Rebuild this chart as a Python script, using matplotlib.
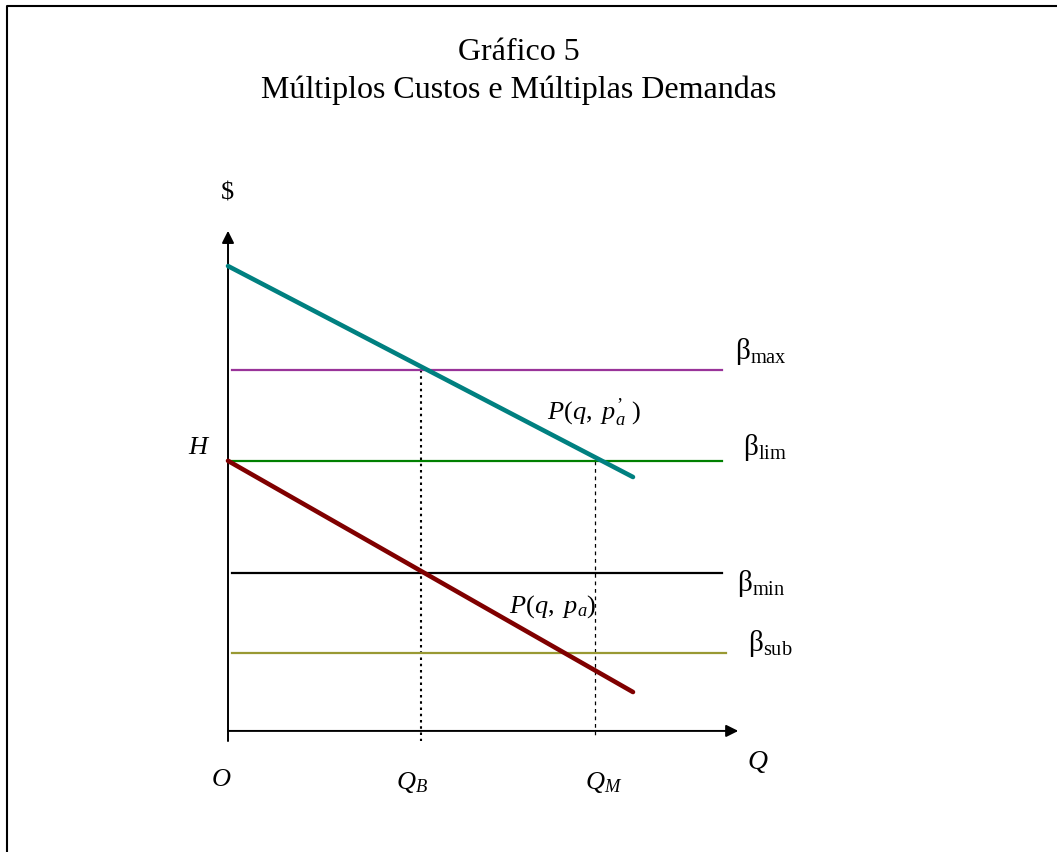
import matplotlib
matplotlib.use("Agg")
import matplotlib.pyplot as plt
from matplotlib.lines import Line2D

plt.rcParams["font.family"] = ["Liberation Serif", "DejaVu Serif"]
plt.rcParams["mathtext.fontset"] = "custom"
plt.rcParams["mathtext.rm"] = "Liberation Serif"
plt.rcParams["mathtext.it"] = "Liberation Serif:italic"

# chart values (Q units on x, $ units on y)
q_end = 10.0
demand_high = [11.48, 6.27]   # P(q, p'_a) at q = 0 and q_end
demand_low = [6.67, 0.96]     # P(q, p_a) at q = 0 and q_end
beta_names = ["max", "lim", "min", "sub"]
beta_values = [8.91, 6.67, 3.90, 1.93]
beta_colors = ["#993399", "#008000", "#000000", "#999933"]
q_b = 4.77
q_m = 9.06


def draw_chart():
    fig = plt.figure(figsize=(10.57, 8.52), dpi=100)
    ax = fig.add_axes([0, 0, 1, 1])
    ax.set_xlim(-5.63, 20.47)
    ax.set_ylim(-2.99, 18.05)
    ax.axis("off")

    # frame around the picture (only top and left visible)
    fig.add_artist(Line2D([7 / 1057, 7 / 1057, 1], [0, 1 - 6 / 852, 1 - 6 / 852],
                          transform=fig.transFigure, color="black", lw=1.5))

    fig.text(519 / 1057, 1 - 60 / 852, "Gráfico 5", ha="center", va="baseline", fontsize=23)
    fig.text(519 / 1057, 1 - 98 / 852, "Múltiplos Custos e Múltiplas Demandas",
             ha="center", va="baseline", fontsize=23)

    # axes with arrows
    ax.annotate("", xy=(0, 12.35), xytext=(0, -0.25),
                arrowprops=dict(arrowstyle="-|>", color="black", lw=1.4, mutation_scale=18,
                                shrinkA=0, shrinkB=0))
    ax.annotate("", xy=(12.6, 0), xytext=(0, 0),
                arrowprops=dict(arrowstyle="-|>", color="black", lw=1.4, mutation_scale=18,
                                shrinkA=0, shrinkB=0))

    # cost levels
    for name, val, col in zip(beta_names, beta_values, beta_colors):
        x0 = 0.0 if name == "lim" else 0.1
        x1 = 12.3 if name == "sub" else 12.2
        ax.plot([x0, x1], [val, val], color=col, lw=1.6, zorder=2)

    # demand curves
    ax.plot([0, q_end], demand_high, color="#008080", lw=3.3, solid_capstyle="round", zorder=3)
    ax.plot([0, q_end], demand_low, color="#800000", lw=3.3, solid_capstyle="round", zorder=3)

    # reference quantities
    ax.plot([q_b, q_b], [beta_values[0], -0.25], color="black", lw=1.5,
            linestyle=(0, (1.2, 1.8)), zorder=1)
    ax.plot([q_m, q_m], [beta_values[1], -0.1], color="black", lw=0.9,
            linestyle=(0, (3, 3)), zorder=1)

    # labels
    ax.text(-0.02, 13.26, "$", ha="center", va="center", fontsize=19)
    ax.text(-0.72, 6.99, "$H$", ha="center", va="center", fontsize=19)
    ax.text(-0.17, -1.21, "$O$", ha="center", va="center", fontsize=19)
    ax.text(4.54, -1.28, "$Q_B$", ha="center", va="center", fontsize=19)
    ax.text(9.28, -1.28, "$Q_M$", ha="center", va="center", fontsize=19)
    ax.text(13.09, -0.77, "$Q$", ha="center", va="center", fontsize=20)

    label_pos = [(12.52, 9.36), (12.72, 6.99), (12.57, 3.65), (12.84, 2.17)]
    for name, (lx, ly) in zip(beta_names, label_pos):
        ax.text(lx, ly, "β$_{\\mathrm{" + name + "}}$", ha="left", va="center", fontsize=21)

    ax.text(7.88, 7.85, "$P(q,\\ p_a^{\u2019}\\ )$", ha="left", va="center", fontsize=19)
    ax.text(6.94, 3.06, "$P(q,\\ p_a)$", ha="left", va="center", fontsize=19)

    fig.savefig("out.png", dpi=100)


if __name__ == "__main__":
    draw_chart()
